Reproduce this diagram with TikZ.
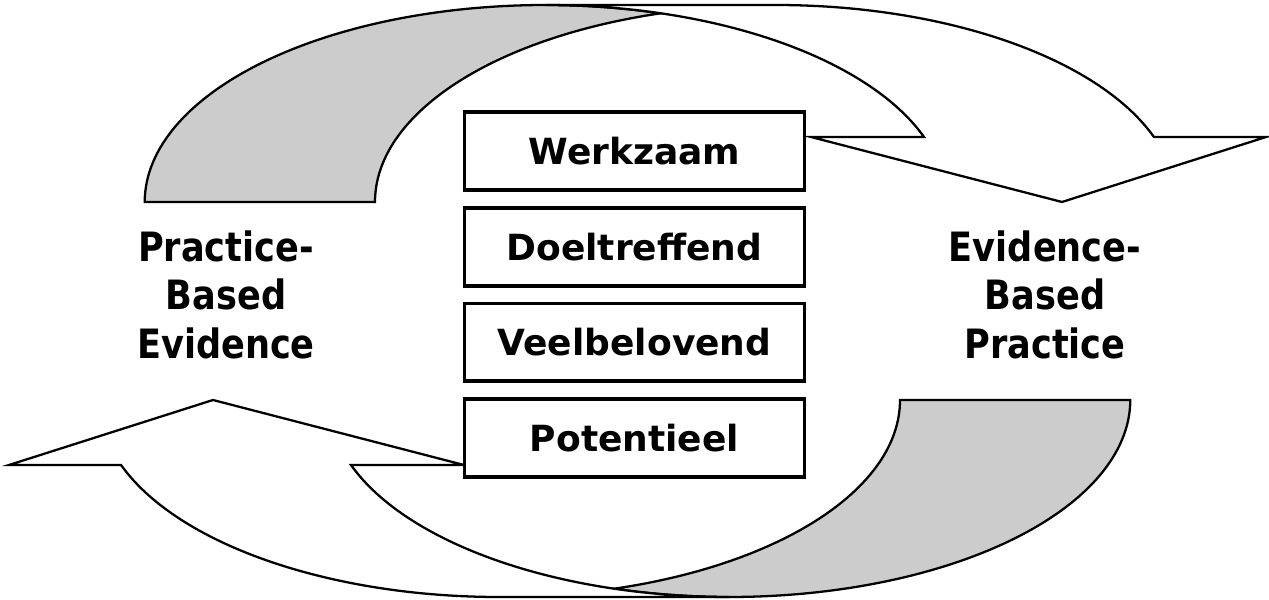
\documentclass[tikz,border=0pt]{standalone}
\usepackage{fontspec}
\setmainfont{DejaVu Sans}
\usepackage{graphicx}
\usetikzlibrary{positioning}
\tikzstyle{back} = [draw, line width=1.3pt, fill=black!20]
\tikzstyle{band} = [draw, line width=1.3pt, fill=white]
\tikzstyle{level} = [rectangle, draw, line width=2.1pt, fill=white, minimum width=6.8cm, minimum height=1.56cm, inner sep=0pt, font=\fontsize{20.5}{24}\selectfont\bfseries]
\tikzstyle{side} = [inner sep=0pt, font=\fontsize{20}{24}\selectfont\bfseries]

\begin{document}
\begin{tikzpicture}[x=0.02cm, y=0.02cm, node distance=0.28cm]
	\useasboundingbox (0,0) rectangle (1269,599);
	% The two curved arrows (second one turned round the centre)
	\foreach \turn in {0,180} {
		\begin{scope}[rotate around={\turn:(637.5,298)}]
			\path [back] (375,397) arc [start angle=180, end angle=106.7, x radius=400.7, y radius=197]
				arc [start angle=73.3, end angle=180, x radius=400.7, y radius=197] -- cycle;
			\path [band] (924,462) arc [start angle=19.27, end angle=90, x radius=400.7, y radius=197]
				-- (775.7,594) arc [start angle=90, end angle=19.27, x radius=400.7, y radius=197]
				-- (1266,462) -- (1062,397) -- (811,462) -- cycle;
		\end{scope}
	}
	% Place nodes
	\node [level] (werkzaam) at (634.5,448) {Werkzaam};
	\node [level, below = of werkzaam] (doeltreffend) {Doeltreffend};
	\node [level, below = of doeltreffend] (veelbelovend) {Veelbelovend};
	\node [level, below = of veelbelovend] (potentieel) {Potentieel};
	\node [side] (pbe) at (226,299) {\scalebox{1}[1.15]{\begin{tabular}{@{}c@{}}Practice-\\Based\\Evidence\end{tabular}}};
	\node [side] (ebp) at (1045,299) {\scalebox{1}[1.15]{\begin{tabular}{@{}c@{}}Evidence-\\Based\\Practice\end{tabular}}};
\end{tikzpicture}
\end{document}
